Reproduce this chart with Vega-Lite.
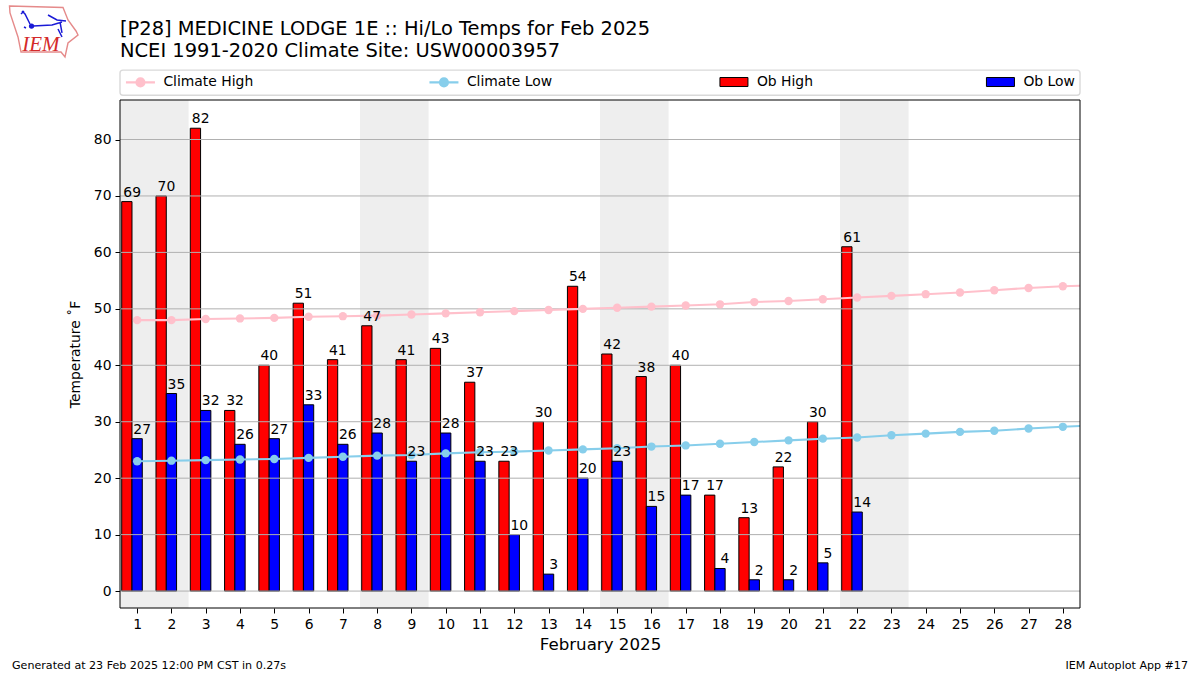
{
"$schema":"https://vega.github.io/schema/vega-lite/v6.json",
"width":960,"height":508,
"autosize":"none",
"padding":{"left":120,"top":100,"right":120,"bottom":67},
"background":"white",
"view":{"stroke":null},
"config":{"font":"DejaVu Sans","axis":{"labelFont":"DejaVu Sans","titleFont":"DejaVu Sans"},"axisX":{"tickCount":28,"labelOverlap":false,"labelFlush":false},"legend":{"labelFont":"DejaVu Sans"}},
"title":{"text":["[P28] MEDICINE LODGE 1E :: Hi/Lo Temps for Feb 2025","NCEI 1991-2020 Climate Site: USW00003957"],"anchor":"start","frame":"group","font":"DejaVu Sans","fontSize":19.44,"fontWeight":"normal","lineHeight":21.5,"offset":0,"dy":58,"color":"black"},
"datasets":{
"obs":[
{"day":1,"high":69,"low":27},{"day":2,"high":70,"low":35},{"day":3,"high":82,"low":32},{"day":4,"high":32,"low":26},{"day":5,"high":40,"low":27},{"day":6,"high":51,"low":33},{"day":7,"high":41,"low":26},{"day":8,"high":47,"low":28},{"day":9,"high":41,"low":23},{"day":10,"high":43,"low":28},{"day":11,"high":37,"low":23},{"day":12,"high":23,"low":10},{"day":13,"high":30,"low":3},{"day":14,"high":54,"low":20},{"day":15,"high":42,"low":23},{"day":16,"high":38,"low":15},{"day":17,"high":40,"low":17},{"day":18,"high":17,"low":4},{"day":19,"high":13,"low":2},{"day":20,"high":22,"low":2},{"day":21,"high":30,"low":5},{"day":22,"high":61,"low":14}],
"climate":[
{"day":1,"hi":48,"lo":23},{"day":2,"hi":48,"lo":23.1},{"day":3,"hi":48.2,"lo":23.2},{"day":4,"hi":48.3,"lo":23.3},{"day":5,"hi":48.4,"lo":23.4},{"day":6,"hi":48.6,"lo":23.6},{"day":7,"hi":48.7,"lo":23.8},{"day":8,"hi":48.8,"lo":24},{"day":9,"hi":49,"lo":24.1},{"day":10,"hi":49.2,"lo":24.4},{"day":11,"hi":49.4,"lo":24.6},{"day":12,"hi":49.6,"lo":24.7},{"day":13,"hi":49.8,"lo":24.9},{"day":14,"hi":50,"lo":25.1},{"day":15,"hi":50.2,"lo":25.3},{"day":16,"hi":50.4,"lo":25.6},{"day":17,"hi":50.6,"lo":25.8},{"day":18,"hi":50.8,"lo":26.1},{"day":19,"hi":51.2,"lo":26.4},{"day":20,"hi":51.4,"lo":26.7},{"day":21,"hi":51.7,"lo":27},{"day":22,"hi":52,"lo":27.2},{"day":23,"hi":52.3,"lo":27.6},{"day":24,"hi":52.6,"lo":27.9},{"day":25,"hi":52.9,"lo":28.2},{"day":26,"hi":53.3,"lo":28.4},{"day":27,"hi":53.7,"lo":28.8},{"day":28,"hi":54,"lo":29.1},{"day":29,"hi":54.2,"lo":29.4}],
"weekend":[{"start":0.5,"end":2.5},{"start":7.5,"end":9.5},{"start":14.5,"end":16.5},{"start":21.5,"end":23.5}],
"grid":[{"v":0},{"v":10},{"v":20},{"v":30},{"v":40},{"v":50},{"v":60},{"v":70},{"v":80}],
"one":[{"s":"frame"}]
},
"data":{"name":"obs"},
"layer":[
{"data":{"name":"weekend"},"mark":{"type":"rect","color":"#eeeeee"},
 "encoding":{"x":{"field":"start","type":"quantitative","scale":{"domain":[0.5,28.5],"nice":false,"zero":false,"padding":0},
   "axis":{"values":[1,2,3,4,5,6,7,8,9,10,11,12,13,14,15,16,17,18,19,20,21,22,23,24,25,26,27,28],"grid":false,"domain":false,"tickColor":"black","tickSize":5,"labelFontSize":13.9,"labelColor":"black","labelPadding":4,"labelFlush":false,"labelOverlap":false,"title":"February 2025","titleFontSize":16.66,"titleFontWeight":"normal","titleColor":"black","titlePadding":6}},"x2":{"field":"end"}}},
{"data":{"name":"obs"},"transform":[{"fold":["high"],"as":["k","value"]},{"calculate":"'Ob High'","as":"series"}],
 "mark":{"type":"bar","width":10.29,"xOffset":-10.29,"stroke":"black","strokeWidth":1},
 "encoding":{
  "x":{"field":"day","type":"quantitative"},
  "y":{"field":"value","type":"quantitative","scale":{"domain":[-3,87],"nice":false,"zero":false}},
  "y2":{"datum":0},
  "fill":{"field":"series","type":"nominal","scale":{"domain":["Ob High","Ob Low"],"range":["red","blue"]},
   "legend":{"title":null,"orient":"none","legendX":593.5,"legendY":-30,"columns":2,"columnPadding":170.5,"padding":5,"labelFontSize":13.9,"labelColor":"black","symbolSize":100,"symbolOffset":8.5,"labelOffset":16,"symbolType":"M-2.8,-0.9H2.8V0.9H-2.8Z","symbolStrokeColor":"black","symbolStrokeWidth":1,"symbolOpacity":1}}
 }},
{"data":{"name":"obs"},"transform":[{"fold":["low"],"as":["k","value"]},{"calculate":"'Ob Low'","as":"series"}],
 "mark":{"type":"bar","width":10.29,"stroke":"black","strokeWidth":1},
 "encoding":{"x":{"field":"day","type":"quantitative"},"y":{"field":"value","type":"quantitative"},"y2":{"datum":0},"fill":{"field":"series","type":"nominal"}}},
{"data":{"name":"grid"},"mark":{"type":"rule","color":"#b0b0b0","strokeWidth":1},
 "encoding":{"y":{"field":"v","type":"quantitative",
  "axis":{"values":[0,10,20,30,40,50,60,70,80],"grid":false,"domain":false,"tickColor":"black","tickSize":5,"labelFontSize":13.9,"labelColor":"black","labelPadding":4,"title":"Temperature ˚F","titleFontSize":13.9,"titleFontWeight":"normal","titleColor":"black","titlePadding":11}}}},
{"data":{"name":"climate"},"transform":[{"fold":["hi"],"as":["k","value"]},{"calculate":"'Climate High'","as":"series"}],
 "mark":{"type":"line","strokeWidth":2.08,"clip":true},
 "encoding":{"x":{"field":"day","type":"quantitative"},"y":{"field":"value","type":"quantitative"},
  "stroke":{"field":"series","type":"nominal","scale":{"domain":["Climate High","Climate Low"],"range":["pink","skyblue"]},
   "legend":{"title":null,"orient":"none","legendX":0,"legendY":-30,"columns":2,"columnPadding":170.5,"padding":5,"labelFontSize":13.9,"labelColor":"black","symbolSize":100,"symbolOffset":8.5,"labelOffset":16,"symbolType":"M-2.9,0H2.9M0.8,0A0.8,0.8 0 1 1 -0.8,0A0.8,0.8 0 1 1 0.8,0M0.4,0A0.4,0.4 0 1 1 -0.4,0A0.4,0.4 0 1 1 0.4,0M0.1,0A0.1,0.1 0 1 1 -0.1,0A0.1,0.1 0 1 1 0.1,0","symbolStrokeWidth":2.08,"symbolFillColor":"transparent","symbolOpacity":1}}}},
{"data":{"name":"climate"},"transform":[{"fold":["lo"],"as":["k","value"]},{"calculate":"'Climate Low'","as":"series"}],
 "mark":{"type":"line","strokeWidth":2.08,"clip":true},
 "encoding":{"x":{"field":"day","type":"quantitative"},"y":{"field":"value","type":"quantitative"},"stroke":{"field":"series","type":"nominal"}}},
{"data":{"name":"climate"},
 "mark":{"type":"point","filled":true,"opacity":1,"size":70,"clip":true,"color":"pink"},
 "encoding":{"x":{"field":"day","type":"quantitative"},"y":{"field":"hi","type":"quantitative"}}},
{"data":{"name":"climate"},
 "mark":{"type":"point","filled":true,"opacity":1,"size":70,"clip":true,"color":"skyblue"},
 "encoding":{"x":{"field":"day","type":"quantitative"},"y":{"field":"lo","type":"quantitative"}}},
{"data":{"name":"obs"},"mark":{"type":"text","dx":-5,"dy":-5,"baseline":"alphabetic","fontSize":13.9,"color":"black"},
 "encoding":{"x":{"field":"day","type":"quantitative"},"y":{"field":"high","type":"quantitative"},"text":{"field":"high","type":"quantitative"}}},
{"data":{"name":"obs"},"mark":{"type":"text","dx":5,"dy":-5,"baseline":"alphabetic","fontSize":13.9,"color":"black"},
 "encoding":{"x":{"field":"day","type":"quantitative"},"y":{"field":"low","type":"quantitative"},"text":{"field":"low","type":"quantitative"}}},
{"data":{"name":"one"},"mark":{"type":"rect","fill":null,"stroke":"black","strokeWidth":1},
 "encoding":{"x":{"datum":0.5},"x2":{"datum":28.5},"y":{"datum":-3},"y2":{"datum":87}}},
{"data":{"name":"one"},"mark":{"type":"rect","fill":null,"stroke":"#d9d9d9","strokeWidth":1.4,"cornerRadius":3},
 "encoding":{"x":{"datum":0.5},"x2":{"datum":28.5},"y":{"datum":87.85},"y2":{"datum":92.3}}},
{"data":{"values":[{"note":"Generated at 23 Feb 2025 12:00 PM CST in 0.27s"}]},"mark":{"type":"text","align":"left","baseline":"middle","fontSize":11.1,"color":"black"},
 "encoding":{"x":{"datum":-2.65},"y":{"datum":-13.3},"text":{"field":"note"}}},
{"data":{"values":[{"note":"IEM Autoplot App #17"}]},"mark":{"type":"text","align":"right","baseline":"middle","fontSize":11.1,"color":"black"},
 "encoding":{"x":{"datum":31.65},"y":{"datum":-13.3},"text":{"field":"note"}}},
{"data":{"name":"one"},"mark":{"type":"point","opacity":1,"size":4,"filled":false,"stroke":"#e58a8a","strokeWidth":1.4,
  "shape":"M9.5,6L63,7.5L68,20L76,31L78,35L68,43L65,57L61,52L21,52L18,37L10,13Z"},
 "encoding":{"x":{"datum":-3},"y":{"datum":104.72}}},
{"data":{"name":"one"},"mark":{"type":"point","opacity":1,"size":4,"filled":false,"stroke":"#1a1ad6","strokeWidth":1.5,
  "shape":"M22,11L25,14L30,24M21,14L24,11M33,26L52,25L62,22M48,15L57,20L66,21M60,22L62,33M58,29L62,37M24,27L26,28"},
 "encoding":{"x":{"datum":-3},"y":{"datum":104.72}}},
{"data":{"name":"one"},"mark":{"type":"point","opacity":1,"size":28,"filled":true,"color":"#1a1ad6","shape":"circle"},
 "encoding":{"x":{"datum":-2.08},"y":{"datum":100.1}}},
{"data":{"values":[{"note":"IEM"}]},"mark":{"type":"text","align":"left","baseline":"alphabetic","font":"Liberation Serif","fontStyle":"italic","fontSize":21,"color":"#d42a2a"},
 "encoding":{"x":{"datum":-2.35},"y":{"datum":95.7},"text":{"field":"note"}}}
]
}
